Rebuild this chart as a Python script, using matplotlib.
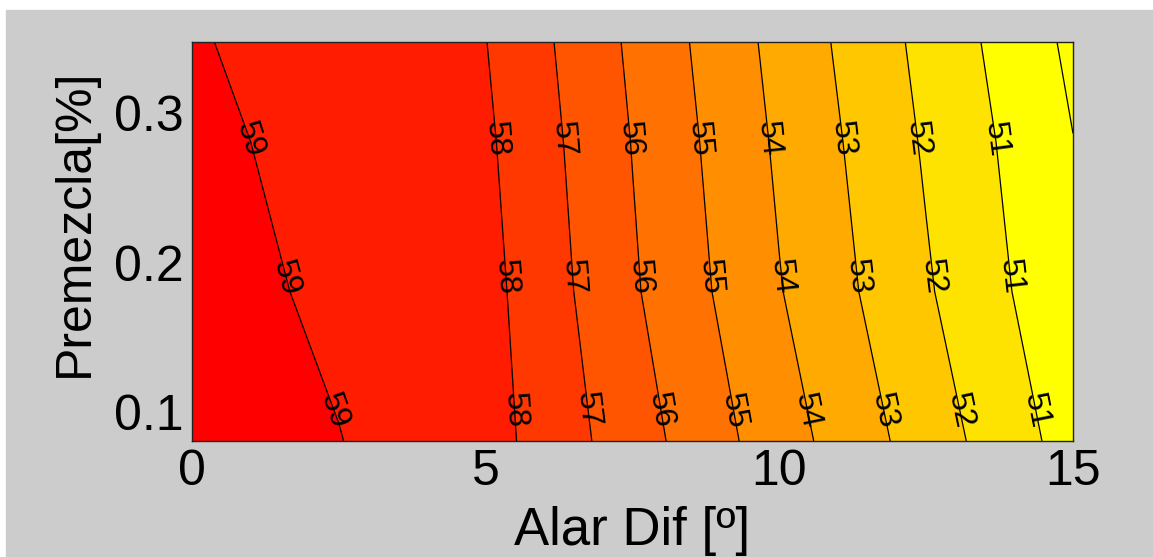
import numpy as np
import matplotlib
matplotlib.use("Agg")
import matplotlib.pyplot as plt
import matplotlib.transforms as mtransforms
from matplotlib.patches import Rectangle

plt.rcParams['font.family'] = ['Liberation Sans', 'DejaVu Sans']

# datos
alar_dif = [0, 2.5, 5, 7.5, 10, 12.5, 15]
premezcla = [0.1, 0.2, 0.3, 0.367]
z_010 = [59.40, 59.02, 58.41, 56.46, 54.45, 52.53, 50.59]
z_020 = [59.30, 58.85, 58.32, 56.12, 54.05, 52.11, 50.21]
z_030 = [59.20, 58.70, 58.16, 55.97, 53.85, 51.89, 50.02]
z_top = [59.09, 58.50, 58.02, 55.83, 53.69, 51.72, 49.79]
niveles = [50, 51, 52, 53, 54, 55, 56, 57, 58, 59]
niveles_etiqueta = [51, 52, 53, 54, 55, 56, 57, 58, 59]
filas_etiqueta = [0.302, 0.21, 0.121]

X, Y = np.meshgrid(alar_dif, premezcla)
Z = np.array([z_010, z_020, z_030, z_top])

fig = plt.figure(figsize=(11.53, 5.57), dpi=100, facecolor='white')
fig.patches.append(Rectangle((6 / 1153, 0), 1, (557 - 10) / 557,
                             transform=fig.transFigure, color='#cccccc', zorder=-10))
ax = fig.add_axes([192 / 1153, (557 - 441) / 557, 881 / 1153, 399 / 557])

bordes = [49] + niveles + [60]
colores = [plt.cm.autumn(np.clip((59 - l) / 9, 0, 1)) for l in bordes[:-1]]
ax.contourf(X, Y, Z, levels=bordes, colors=colores)
cs = ax.contour(X, Y, Z, levels=niveles, colors='black', linewidths=0.9)

# posiciones de etiquetas: punto de cada curva mas cercano a cada fila
manual = []
for lev, segs in zip(cs.levels, cs.allsegs):
    if lev not in niveles_etiqueta:
        continue
    pts = np.vstack(segs)
    for yf in filas_etiqueta:
        i = np.argmin(np.abs(pts[:, 1] - yf))
        manual.append((pts[i, 0], yf))
ax.clabel(cs, inline=False, fontsize=23, colors='black', fmt='%d', manual=manual)

ax.set_xlim(0, 15)
ax.set_ylim(0.1, 0.367)
ax.set_xticks([0, 5, 10, 15])
ax.set_yticks([0.1, 0.2, 0.3])
ax.set_yticklabels(['0.1', '0.2', '0.3'])
ax.tick_params(length=0, labelsize=36, pad=6)
for s in ax.spines.values():
    s.set_linewidth(1.0)
    s.set_color('#222222')

offset = mtransforms.ScaledTranslation(0, 0.29, fig.dpi_scale_trans)
for lab in ax.get_yticklabels():
    lab.set_transform(lab.get_transform() + offset)

ax.set_xlabel('Alar Dif [º]', fontsize=38)
ax.xaxis.set_label_coords(0.5, -0.163)
ax.set_ylabel('Premezcla[%]', fontsize=36)
ax.yaxis.set_label_coords(-0.107, 0.546)

fig.savefig('out.png', dpi=100, facecolor=fig.get_facecolor())
